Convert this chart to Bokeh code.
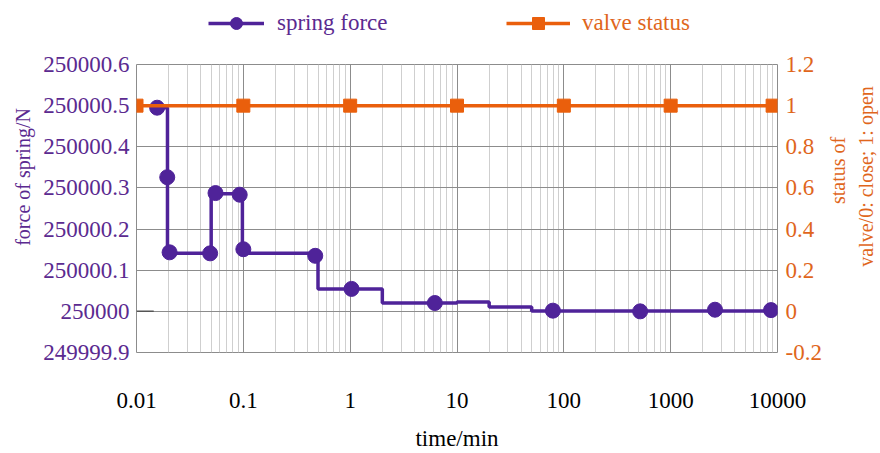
import math
from bokeh.plotting import figure
from bokeh.layouts import column, row
from bokeh.models import (Range1d, LinearAxis, FixedTicker, CustomJSTickFormatter,
                          Legend, LegendItem, Label)
from bokeh.embed import file_html
from bokeh.resources import INLINE

# ---------------- data ----------------
# spring force: staircase (change times, and level held after each change time)
force_step_t = [0.0156, 0.0195, 0.05, 0.098, 0.5, 2, 10, 20, 50, 10000]
force_step_v = [250000.495, 250000.141, 250000.286, 250000.141, 250000.0546,
                250000.0203, 250000.0227, 250000.0106, 250000.001]
# spring force: marked points
spring_t = [0.0156, 0.0194, 0.0204, 0.0489, 0.0549, 0.0925, 0.1, 0.471,
            1.03, 6.2, 79, 518, 2600, 8700]
spring_v = [250000.495, 250000.326, 250000.1435, 250000.141, 250000.2875,
            250000.2835, 250000.151, 250000.135, 250000.0546, 250000.0203,
            250000.0017, 250000.0, 250000.004, 250000.003]
# small dash at 250000 near the left edge
dash_t = [0.01, 0.0145]
dash_v = [250000.0, 250000.0]
# valve status
valve_t = [0.01, 0.1, 1, 10, 100, 1000, 9000]
valve_v = [1, 1, 1, 1, 1, 1, 1]

x_ticks = [0.01, 0.1, 1, 10, 100, 1000, 10000]
x_labels = ["0.01", "0.1", "1", "10", "100", "1000", "10000"]
y_ticks = [249999.9, 250000.0, 250000.1, 250000.2, 250000.3, 250000.4, 250000.5, 250000.6]
y_labels = ["249999.9", "250000", "250000.1", "250000.2", "250000.3", "250000.4",
            "250000.5", "250000.6"]
y2_ticks = [-0.2, 0, 0.2, 0.4, 0.6, 0.8, 1.0, 1.2]
y2_labels = ["-0.2", "0", "0.2", "0.4", "0.6", "0.8", "1", "1.2"]
x_title = "time/min"
y_title = "force of spring/N"
y2_title_lines = ["status of", "valve/0: close; 1: open"]
series_names = ["spring force", "valve status"]

PURPLE = "#4f2399"
PURPLE_T = "#5b2a90"
ORANGE = "#ea5f0c"
ORANGE_T = "#e0661c"
FONT = "Liberation Serif"
FS = "23px"
FS_ROT = "20px"

W, H = 880, 453
LEG_H = 40          # legend strip on top
LLAB_W = 40         # strip for the left-axis title
RLAB_W = 56         # strip for the right-axis title
FRAME_L, FRAME_R, FRAME_T, FRAME_B = 135, 779, 64, 354

# build staircase path
line_t, line_v = [], []
for i, lev in enumerate(force_step_v):
    line_t += [force_step_t[i], force_step_t[i + 1]]
    line_v += [lev, lev]

x_minor = [k * 10.0 ** n for n in range(-2, 4) for k in range(2, 10)]


def lookup_formatter(vals, labs):
    return CustomJSTickFormatter(args=dict(vals=vals, labs=labs), code="""
        let best = 0;
        for (let i = 0; i < vals.length; i++) {
            if (Math.abs(vals[i] - tick) < Math.abs(vals[best] - tick)) best = i;
        }
        return labs[best];
    """)


def style(ax):
    ax.axis_line_color = None
    ax.major_tick_line_color = None
    ax.minor_tick_line_color = None
    ax.major_tick_out = 0
    ax.minor_tick_out = 0
    ax.major_label_text_font = FONT
    ax.major_label_text_font_size = FS
    ax.axis_label_text_font = FONT
    ax.axis_label_text_font_size = FS
    ax.axis_label_text_font_style = "normal"


def fig(**kw):
    return figure(output_backend="svg", toolbar_location=None,
                  background_fill_color="white", border_fill_color="white", **kw)


# ---------------- main chart ----------------
MAIN_W, MAIN_H = W - RLAB_W - LLAB_W, H - LEG_H
p = fig(width=MAIN_W, height=MAIN_H, x_axis_type="log",
        x_range=Range1d(0.01, 10000), y_range=Range1d(249999.9, 250000.6),
        min_border_left=FRAME_L - LLAB_W, min_border_right=W - RLAB_W - FRAME_R,
        min_border_top=FRAME_T - LEG_H, min_border_bottom=H - FRAME_B)
p.extra_y_ranges = {"valve": Range1d(-0.2, 1.2)}
p.outline_line_color = "#8c8c8c"
p.outline_line_width = 1

xa = p.xaxis[0]
xa.ticker = FixedTicker(ticks=x_ticks, minor_ticks=x_minor)
xa.formatter = lookup_formatter(x_ticks, x_labels)
xa.axis_label = x_title
ya = p.yaxis[0]
ya.ticker = FixedTicker(ticks=y_ticks)
ya.formatter = lookup_formatter(y_ticks, y_labels)
ra = LinearAxis(y_range_name="valve", ticker=FixedTicker(ticks=y2_ticks),
                formatter=lookup_formatter(y2_ticks, y2_labels))
p.add_layout(ra, "right")
for ax in (xa, ya, ra):
    style(ax)

xa.major_label_standoff = 40
xa.axis_label_standoff = 15
xa.major_label_text_color = "black"
xa.axis_label_text_color = "black"
ya.major_label_standoff = 7
ya.major_label_text_color = PURPLE_T
ra.major_label_standoff = 8
ra.major_label_text_color = ORANGE_T

p.xgrid.grid_line_color = "#8c8c8c"
p.xgrid.minor_grid_line_color = "#cfcfcf"
p.ygrid.grid_line_color = "#8c8c8c"
p.ygrid.ticker = FixedTicker(ticks=y_ticks)

p.line(dash_t, dash_v, line_color="#555555", line_width=1.5)
p.line(line_t, line_v, line_color=PURPLE, line_width=3.5)
p.scatter(spring_t, spring_v, marker="circle", size=15,
          fill_color=PURPLE, line_color=PURPLE)
p.line(valve_t, valve_v, y_range_name="valve", line_color=ORANGE, line_width=3.5)
p.scatter(valve_t, valve_v, y_range_name="valve", marker="square", size=13,
          fill_color=ORANGE, line_color=ORANGE)


def blank_fig(w, h, xr, yr):
    f = fig(width=w, height=h, x_range=xr, y_range=yr,
            x_axis_location=None, y_axis_location=None,
            min_border=0, min_border_left=0, min_border_right=0,
            min_border_top=0, min_border_bottom=0)
    f.outline_line_color = None
    f.grid.visible = False
    return f


# ---------------- legend strip ----------------
# the series are re-drawn here only to feed the legend swatches; the strip's
# ranges keep the actual data out of view
lg = blank_fig(W, LEG_H, Range1d(-5, -4), Range1d(-5, -4))
s_line = lg.line(line_t, line_v, line_color=PURPLE, line_width=3.5)
s_pt = lg.scatter(spring_t, spring_v, marker="circle", size=15,
                  fill_color=PURPLE, line_color=PURPLE)
v_ln = lg.line(valve_t, valve_v, line_color=ORANGE, line_width=3.5)
v_pt = lg.scatter(valve_t, valve_v, marker="square", size=13,
                  fill_color=ORANGE, line_color=ORANGE)


def make_legend(label, rends, color, loc, gw, so):
    return Legend(items=[LegendItem(label=label, renderers=rends)], location=loc,
                  orientation="horizontal", padding=0, margin=0, spacing=0,
                  glyph_width=gw, glyph_height=30, label_height=30, label_standoff=so,
                  label_text_font=FONT, label_text_font_size=FS,
                  label_text_color=color, border_line_color=None,
                  background_fill_alpha=0)


lg.add_layout(make_legend(series_names[0], [s_line, s_pt], PURPLE_T, (208, 2), 56, 13))
lg.add_layout(make_legend(series_names[1], [v_ln, v_pt], ORANGE_T, (506, 2), 64, 12))


def vlabel(f, txt, cx, y_start, color):
    # rotated title reading bottom-to-top, starting at canvas row y_start
    f.add_layout(Label(x=cx, y=H - y_start, text=txt, angle=math.pi / 2,
                       text_align="left", text_baseline="middle",
                       text_font=FONT, text_font_size=FS_ROT, text_color=color))


# ---------------- left-axis title strip ----------------
ll = blank_fig(LLAB_W, MAIN_H, Range1d(0, LLAB_W), Range1d(0, MAIN_H))
vlabel(ll, y_title, 22, 300, PURPLE_T)

# ---------------- right-axis title strip ----------------
rl = blank_fig(RLAB_W, MAIN_H, Range1d(0, RLAB_W), Range1d(0, MAIN_H))
vlabel(rl, y2_title_lines[0], 837 - (W - RLAB_W), 240, ORANGE_T)
vlabel(rl, y2_title_lines[1], 865 - (W - RLAB_W), 330, ORANGE_T)

layout = column(lg, row(ll, p, rl))
open("out.html", "w").write(file_html(layout, INLINE))
